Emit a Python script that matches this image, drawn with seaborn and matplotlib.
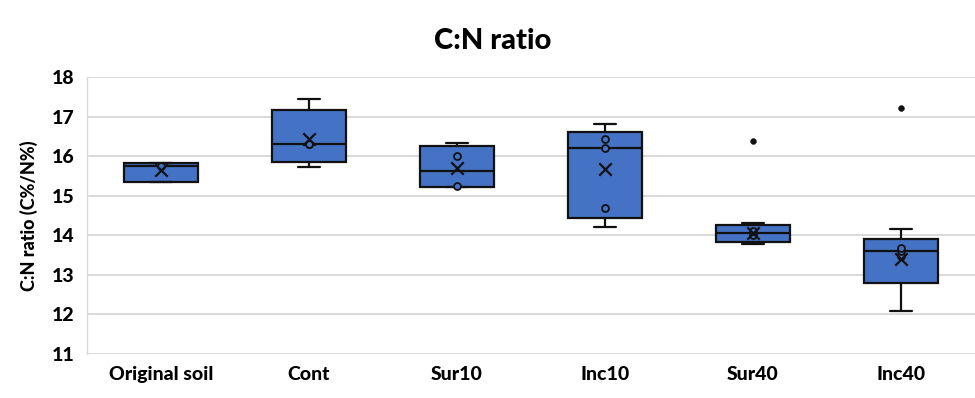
import numpy as np
import matplotlib
matplotlib.use("Agg")
import matplotlib.pyplot as plt
import seaborn as sns
import pandas as pd

# ---- data ----
categories = ["Original soil", "Cont", "Sur10", "Inc10", "Sur40", "Inc40"]
original_soil = [15.35, 15.76, 15.82]
cont = [15.72, 16.30, 16.32, 17.45]
sur10 = [15.22, 15.25, 16.00, 16.35]
inc10 = [14.21, 14.69, 16.22, 16.43, 16.81]
sur40 = [13.77, 14.00, 14.12, 14.32]
inc40 = [12.10, 13.48, 13.60, 13.69, 14.15]
outlier_cats = ["Sur40", "Inc40"]
outlier_vals = [16.39, 17.22]
y_ticks = [11, 12, 13, 14, 15, 16, 17, 18]

groups = [original_soil, cont, sur10, inc10, sur40, inc40]

BLUE = "#4472C4"
EDGE = "#111111"
TXT = "#000000"
FONT = ["Lato", "DejaVu Sans"]
WEIGHT = 900

sns.set_theme(style="whitegrid")
plt.rcParams["font.family"] = FONT

fig = plt.figure(figsize=(9.75, 3.98), dpi=100)
ax = fig.add_axes([0.0889, 0.1106, 0.9111, 0.6952])

# Excel-style (exclusive) quartiles
stats = []
for cat, vals in zip(categories, groups):
    v = np.asarray(vals, dtype=float)
    q1, med, q3 = np.percentile(v, [25, 50, 75], method="weibull")
    stats.append(dict(label=cat, med=med, q1=q1, q3=q3,
                      whislo=v.min(), whishi=v.max(), fliers=[]))

ax.bxp(stats, positions=range(len(categories)), widths=0.5,
       patch_artist=True, showfliers=False, showcaps=True,
       boxprops=dict(facecolor=BLUE, edgecolor=EDGE, linewidth=1.6),
       medianprops=dict(color=EDGE, linewidth=1.6),
       whiskerprops=dict(color=EDGE, linewidth=1.6),
       capprops=dict(color=EDGE, linewidth=1.6),
       capwidths=0.15, zorder=2)

# inner points
inner = pd.DataFrame(
    [(c, x) for c, g in zip(categories, groups) for x in g[1:-1]],
    columns=["cat", "val"])
sns.stripplot(data=inner, x="cat", y="val", order=categories, jitter=False,
              marker="o", size=5, color=BLUE, edgecolor=EDGE, linewidth=1.3,
              ax=ax, zorder=4)

# means
means = pd.DataFrame({"cat": categories, "val": [np.mean(g) for g in groups]})
sns.scatterplot(data=means, x="cat", y="val", marker="x", s=80, color=EDGE,
                linewidth=1.6, ax=ax, zorder=5)

# outliers
outl = pd.DataFrame({"cat": outlier_cats, "val": outlier_vals})
sns.scatterplot(data=outl, x="cat", y="val", marker="o", s=18, color=EDGE,
                edgecolor=EDGE, ax=ax, zorder=5)

ax.set_xlim(-0.5, len(categories) - 0.5)
ax.set_ylim(11, 18)
ax.set_yticks(y_ticks)
ax.set_xticks(range(len(categories)))
ax.set_xticklabels(categories)
ax.grid(axis="y", color="#d9d9d9", linewidth=1.4)
ax.grid(axis="x", visible=False)
ax.set_axisbelow(True)
for s in ["top", "right", "bottom"]:
    ax.spines[s].set_visible(False)
ax.spines["left"].set_color("#d9d9d9")
ax.spines["left"].set_linewidth(1.0)
ax.tick_params(axis="x", length=0, labelsize=14, pad=9, colors=TXT)
ax.tick_params(axis="y", length=0, labelsize=14, pad=9, colors=TXT)
for lab in ax.get_xticklabels() + ax.get_yticklabels():
    lab.set_fontweight(WEIGHT)
ax.set_xlabel("")
ax.set_ylabel("C:N ratio (C%/N%)", fontsize=13, fontweight=WEIGHT, labelpad=10,
              color=TXT)
fig.suptitle("C:N ratio", x=0.505, y=0.93, fontsize=21, fontweight=WEIGHT,
             color=TXT)

fig.savefig("out.png", dpi=100)
